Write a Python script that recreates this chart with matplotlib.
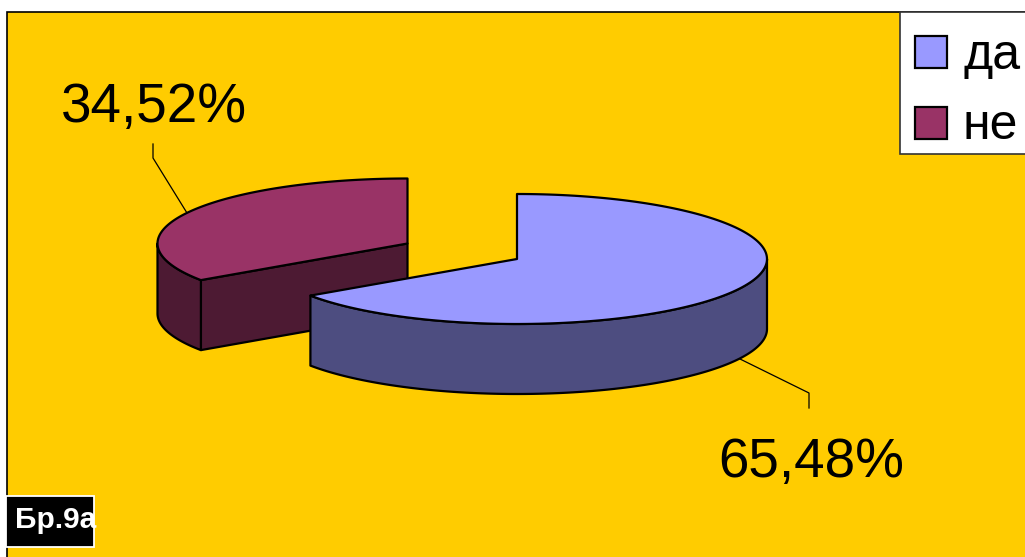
import numpy as np
import matplotlib
matplotlib.use("Agg")
import matplotlib.pyplot as plt
from matplotlib.patches import Polygon, Rectangle

categories = ["да", "не"]
values = [65.48, 34.52]
value_labels = ["65,48%", "34,52%"]
top_colors = ["#9999FF", "#993366"]
side_colors = ["#4D4D80", "#4D1A33"]
badge = "Бр.9а"

plt.rcParams["font.family"] = ["Liberation Sans", "DejaVu Sans"]
W, H = 1025, 557
fig = plt.figure(figsize=(W / 100, H / 100), dpi=100, facecolor="white")
ax = fig.add_axes([0, 0, 1, 1])
ax.set_xlim(0, W)
ax.set_ylim(H, 0)
ax.axis("off")

# background plate
ax.add_patch(Rectangle((6.5, 11.5), W, H, fc="#FFCC00", ec="black", lw=1.2, zorder=0))

RX, RY, DEPTH = 250, 65, 70
EC = "black"
LW = 1.6


def arc(cx, cy, a0, a1, n=160):
    t = np.radians(np.linspace(a0, a1, n))
    return np.c_[cx + RX * np.cos(t), cy - RY * np.sin(t)]


sweep_a = values[0] / sum(values) * 360
cut = 90 - sweep_a  # shared boundary angle (clockwise from 12 o'clock)

# --- second slice (не), pulled out to the left
cx, cy = 407.5, 243.5
top = arc(cx, cy, 90, 90 + values[1] / sum(values) * 360)
down = np.array([0, DEPTH])
# cut wall
p_edge = arc(cx, cy, cut + 360, cut + 360, 1)[0]
c = np.array([cx, cy])
ax.add_patch(Polygon([c, p_edge, p_edge + down, c + down], fc=side_colors[1], ec=EC, lw=LW, joinstyle="round", zorder=2))
# outer wall
rim = arc(cx, cy, 180, cut + 360)
ax.add_patch(Polygon(np.r_[rim, (rim + down)[::-1]], fc=side_colors[1], ec=EC, lw=LW, joinstyle="round", zorder=2))
ax.add_patch(Polygon(np.r_[[c], top], fc=top_colors[1], ec=EC, lw=LW, joinstyle="round", zorder=3))

# --- first slice (да)
cx, cy = 517, 259
c = np.array([cx, cy])
rim = arc(cx, cy, cut, 0)
ax.add_patch(Polygon(np.r_[rim, (rim + down)[::-1]], fc=side_colors[0], ec=EC, lw=LW, joinstyle="round", zorder=4))
top = arc(cx, cy, 90, cut)
ax.add_patch(Polygon(np.r_[[c], top], fc=top_colors[0], ec=EC, lw=LW, joinstyle="round", zorder=5))

# leader lines
ax.plot([153, 153, 187], [144, 158, 213], color="black", lw=0.9, zorder=1.5)
ax.plot([738, 809, 809], [358, 393, 408], color="black", lw=0.9, zorder=1.5)

# value labels
ax.text(154, 122, value_labels[1], fontsize=39.5, ha="center", va="baseline", color="black", zorder=6)
ax.text(811, 476.5, value_labels[0], fontsize=39.5, ha="center", va="baseline", color="black", zorder=6)

# legend
ax.add_patch(Rectangle((900, 12), 140, 142, fc="white", ec="#333333", lw=1.2, zorder=7))
for y0, tc, lab, base in zip([36, 107], top_colors, categories, [69, 139]):
    ax.add_patch(Rectangle((915, y0), 32, 32, fc=tc, ec="black", lw=1.6, zorder=8))
    ax.text(963, base, lab, fontsize=36, ha="left", va="baseline", color="black", zorder=8)

# badge
box = Rectangle((6, 496), 88, 51, fc="black", ec="white", lw=1.3, zorder=9)
ax.add_patch(box)
t = ax.text(15, 528, badge, fontsize=21.5, fontweight="bold", ha="left", va="baseline", color="white", zorder=10)
t.set_clip_path(box)

fig.savefig("out.png", dpi=100, facecolor="white")
